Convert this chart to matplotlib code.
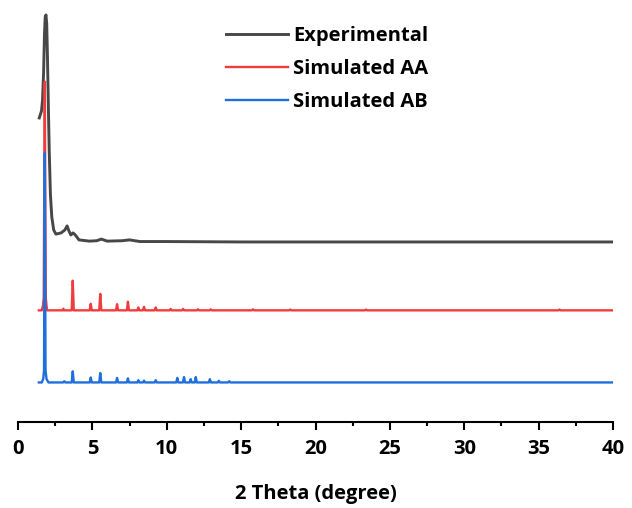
import matplotlib.pyplot as plt
from matplotlib.ticker import MultipleLocator

# experimental pattern (2theta, intensity a.u.)
exp_x = [1.43, 1.50, 1.58, 1.65, 1.72, 1.78, 1.83, 1.88, 1.93, 1.98, 2.04, 2.10, 2.18,
         2.27, 2.40, 2.55, 2.90, 3.15, 3.30, 3.42, 3.55, 3.70, 3.85, 4.10, 4.80, 5.30,
         5.60, 6.00, 7.00, 7.50, 8.20, 10.0, 15.0, 20.0, 25.0, 30.0, 35.0, 40.0]
exp_y = [30.1, 30.9, 31.8, 34.5, 41.0, 50.5, 54.6, 55.1, 53.0, 45.0, 33.0, 22.0, 11.5,
         6.1, 2.9, 1.9, 2.2, 2.9, 3.9, 2.7, 1.7, 2.2, 1.7, 0.5, 0.2, 0.3,
         0.7, 0.2, 0.3, 0.5, 0.1, 0.1, 0.0, 0.0, 0.0, 0.0, 0.0, 0.0]

# simulated AA
aa_x = [1.40, 1.60, 1.68, 1.73, 1.80, 1.87, 1.95, 3.00, 3.05, 3.10,
        3.61, 3.68, 3.75, 4.82, 4.89, 4.96, 5.46, 5.53, 5.60, 6.59, 6.66, 6.73,
        7.32, 7.39, 7.46, 8.02, 8.09, 8.16, 8.40, 8.47, 8.54, 9.19, 9.26, 9.33,
        10.19, 10.26, 10.33, 11.03, 11.10, 11.17, 12.03, 12.10, 12.17,
        12.88, 12.95, 13.02, 15.73, 15.80, 15.87, 18.23, 18.30, 18.37,
        23.33, 23.40, 23.47, 36.33, 36.40, 36.47, 40.0]
aa_y = [0.0, 0.0, 1.2, 3.0, 55.5, 3.0, 0.0, 0.0, 0.4, 0.0,
        0.0, 7.2, 0.0, 0.0, 1.6, 0.0, 0.0, 4.0, 0.0, 0.0, 1.5, 0.0,
        0.0, 2.1, 0.0, 0.0, 0.7, 0.0, 0.0, 0.85, 0.0, 0.0, 0.7, 0.0,
        0.0, 0.35, 0.0, 0.0, 0.35, 0.0, 0.0, 0.25, 0.0,
        0.0, 0.25, 0.0, 0.0, 0.25, 0.0, 0.0, 0.2, 0.0,
        0.0, 0.2, 0.0, 0.0, 0.2, 0.0, 0.0]

# simulated AB
ab_x = [1.40, 1.60, 1.70, 1.75, 1.80, 1.85, 1.92, 2.05, 3.04, 3.11, 3.18,
        3.61, 3.68, 3.75, 4.82, 4.89, 4.96, 5.46, 5.53, 5.60, 6.59, 6.66, 6.73,
        7.32, 7.39, 7.46, 8.02, 8.09, 8.16, 8.40, 8.47, 8.54, 9.19, 9.26, 9.33,
        10.64, 10.71, 10.78, 11.09, 11.16, 11.23, 11.54, 11.61, 11.68,
        11.88, 11.95, 12.02, 12.83, 12.90, 12.97, 13.43, 13.50, 13.57,
        14.13, 14.20, 14.27, 40.0]
ab_y = [0.0, 0.0, 0.9, 3.0, 55.7, 3.0, 0.8, 0.0, 0.0, 0.3, 0.0,
        0.0, 2.7, 0.0, 0.0, 1.2, 0.0, 0.0, 2.3, 0.0, 0.0, 1.1, 0.0,
        0.0, 1.0, 0.0, 0.0, 0.55, 0.0, 0.0, 0.45, 0.0, 0.0, 0.55, 0.0,
        0.0, 1.1, 0.0, 0.0, 1.3, 0.0, 0.0, 0.8, 0.0,
        0.0, 1.3, 0.0, 0.0, 0.8, 0.0, 0.0, 0.4, 0.0,
        0.0, 0.3, 0.0, 0.0]

offsets = [43.7, 27.1, 9.6]
labels = ['Experimental', 'Simulated AA', 'Simulated AB']
colors = ['#474747', '#f03c3c', '#1f6fdc']

plt.rcParams['font.family'] = ['Open Sans', 'DejaVu Sans']
plt.rcParams['font.weight'] = 'bold'
fs = 14.5

fig = plt.figure(figsize=(6.32, 5.08), dpi=100)
ax = fig.add_axes([18 / 632, 86 / 508, 595 / 632, 412 / 508])

ax.plot(exp_x, [v + offsets[0] for v in exp_y], color=colors[0], lw=2.1, label=labels[0])
ax.plot(aa_x, [v + offsets[1] for v in aa_y], color=colors[1], lw=1.7, label=labels[1])
ax.plot(ab_x, [v + offsets[2] for v in ab_y], color=colors[2], lw=1.7, label=labels[2])

ax.set_xlim(0, 40)
ax.set_ylim(0, 100)
for s in ['left', 'right', 'top']:
    ax.spines[s].set_visible(False)
ax.spines['bottom'].set_linewidth(1.5)
ax.set_yticks([])
ax.xaxis.set_major_locator(MultipleLocator(5))
ax.xaxis.set_minor_locator(MultipleLocator(2.5))
ax.tick_params(axis='x', which='major', length=6, width=1.5, labelsize=fs, pad=6)
ax.tick_params(axis='x', which='minor', length=3, width=1.5)
for t in ax.get_xticklabels():
    t.set_fontweight('bold')
ax.set_xlabel('2 Theta (degree)', fontsize=fs, fontweight='bold', labelpad=18)

leg = ax.legend(loc='upper left', bbox_to_anchor=(0.3496, 0.962), frameon=False,
                fontsize=fs, handlelength=3.1, handletextpad=0.25, labelspacing=0.65,
                borderpad=0, borderaxespad=0)
for t in leg.get_texts():
    t.set_fontweight('bold')

fig.savefig('out.png', dpi=100)
